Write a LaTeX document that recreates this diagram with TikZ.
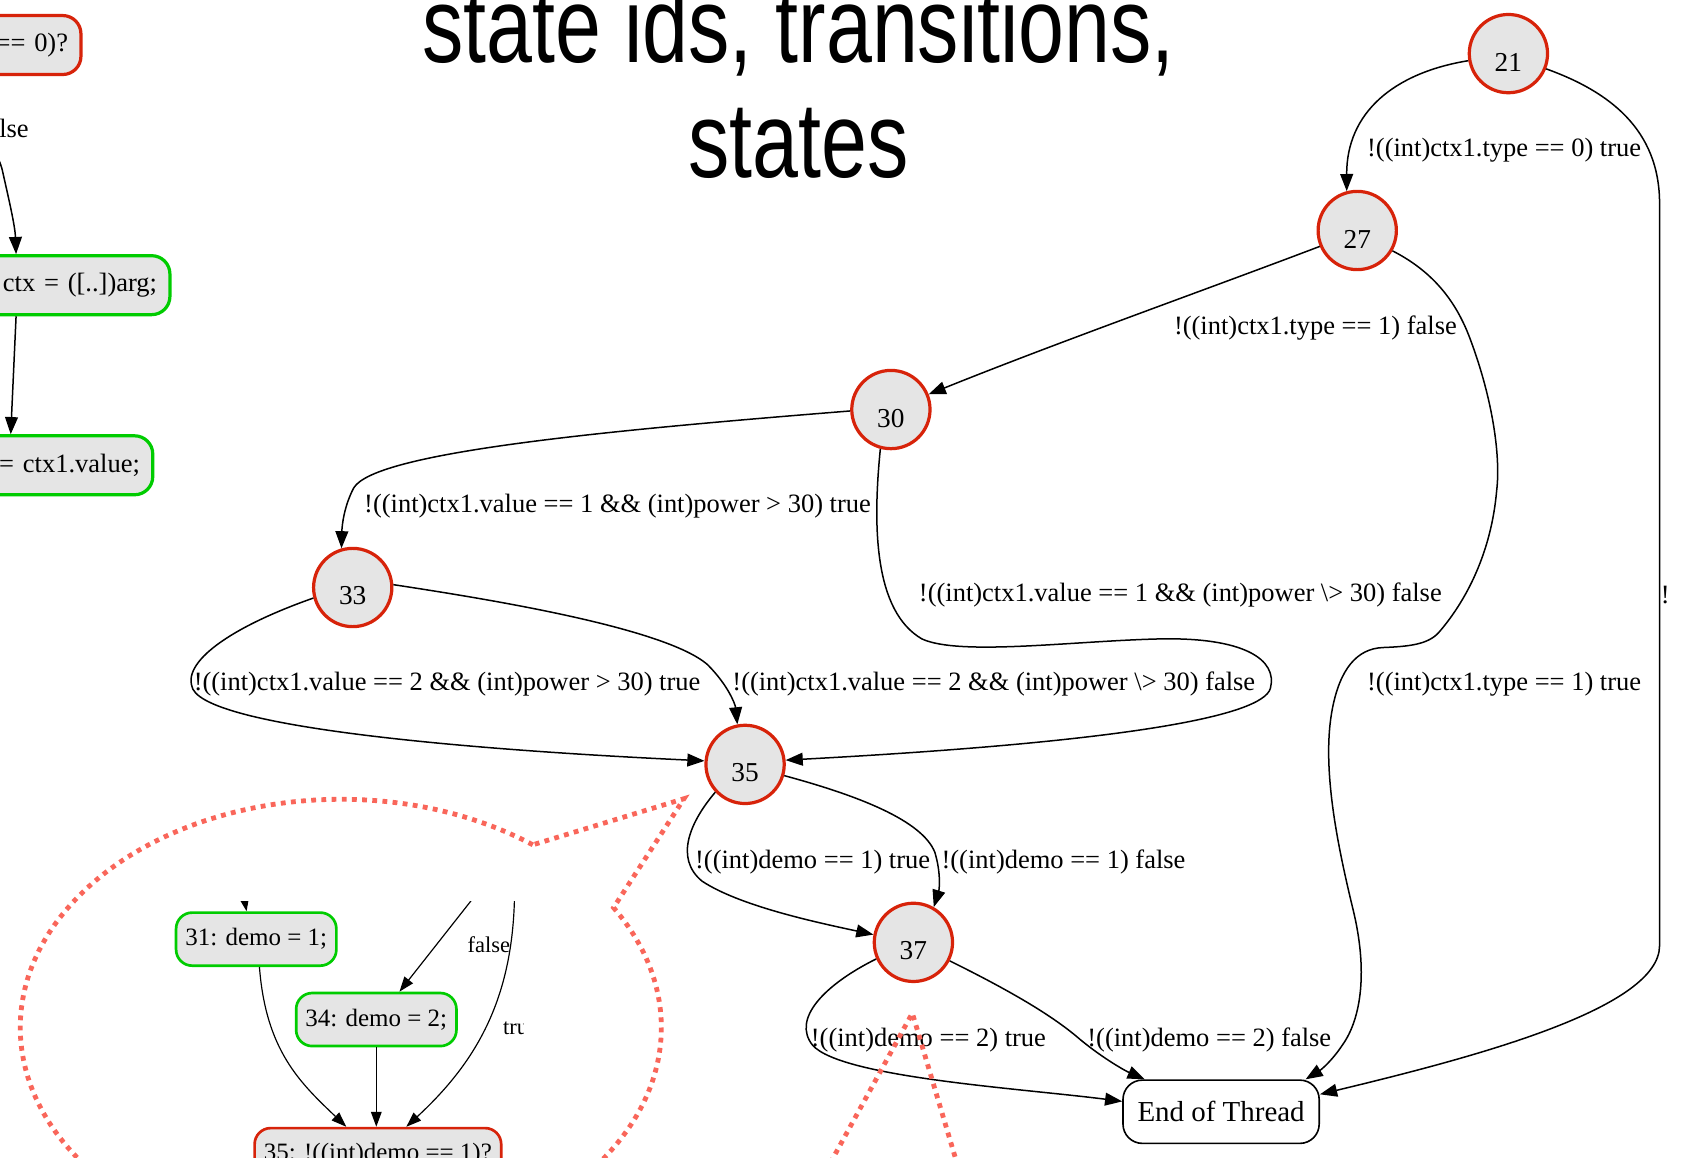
\documentclass[tikz,border=0pt]{standalone}
\usepackage{fontspec}
\setmainfont{Liberation Serif}
\newfontfamily\titlefont[FakeStretch=0.77]{Liberation Sans}
\usetikzlibrary{arrows.meta}
\definecolor{statered}{HTML}{D7230A}
\definecolor{codegreen}{HTML}{00CC00}
\definecolor{stategray}{HTML}{E5E5E5}
\definecolor{calloutred}{HTML}{F9665A}
\tikzset{
  state/.style={circle, draw=statered, line width=3pt, fill=stategray,
    minimum size=73pt, inner sep=0pt},
  statelbl/.style={font=\fontsize{25.5pt}{28pt}\selectfont, inner sep=0pt, yshift=-8pt},
  trans/.style={line width=1.4pt, -{Triangle[length=16pt,width=12pt]}},
  lbl/.style={font=\fontsize{24.7pt}{28pt}\selectfont, inner sep=0pt},
  endbox/.style={draw=black, line width=1.5pt, rounded corners=18pt, fill=white,
    minimum width=183pt, minimum height=59pt, font=\fontsize{27pt}{30pt}\selectfont},
  codebox/.style={rounded corners=17pt, fill=stategray, line width=3pt,
    minimum height=55pt, inner xsep=12pt, text width=200pt, align=right,
    anchor=east, font=\fontsize{24.7pt}{28pt}\selectfont},
  innerbox/.style={rounded corners=15pt, fill=stategray, line width=2.5pt,
    minimum width=149.5pt, minimum height=49.5pt, inner sep=0pt,
    font=\fontsize{23.3pt}{26pt}\selectfont},
  innertrans/.style={line width=1.1pt, -{Triangle[length=14pt,width=10pt]}},
  innerlbl/.style={font=\fontsize{21pt}{24pt}\selectfont, inner sep=0pt},
  titletxt/.style={font=\titlefont\fontsize{100pt}{108pt}\selectfont, inner sep=0pt},
  callout/.style={draw=calloutred, line width=4.5pt, dash pattern=on 4.5pt off 5pt}
}
\begin{document}
\begin{tikzpicture}[x=1pt,y=-1pt]
\useasboundingbox (0,0) rectangle (1568,1080);
\clip (0,0) rectangle (1568,1080);

% heading
\node[titletxt, anchor=base] (title1) at (745,58) {state ids, transitions,};
\node[titletxt, anchor=base] (title2) at (745,166) {states};

% state nodes
\node[state, label={[statelbl]center:21}] (s21) at (1407,50) {};
\node[state, label={[statelbl]center:27}] (s27) at (1266,215) {};
\node[state, label={[statelbl]center:30}] (s30) at (831,382) {};
\node[state, label={[statelbl]center:33}] (s33) at (329,548) {};
\node[state, label={[statelbl]center:35}] (s35) at (695,713) {};
\node[state, label={[statelbl]center:37}] (s37) at (852,879) {};
\node[endbox] (endt) at (1139,1037) {End of Thread};

% transitions between states
\draw[trans] (s21.190) .. controls (1300,68) and (1256,105) .. (s27.105);
\draw[trans] (s21.-22) .. controls (1500,85) and (1548,120) .. (1548,190)
  -- (1548,882) .. controls (1548,940) and (1380,985) .. (endt.10);
\draw[trans] (s27.203) .. controls (1120,272) and (990,318) .. (s30.22);
\draw[trans] (s27.-30) .. controls (1340,255) and (1360,285) .. (1372,318)
  .. controls (1392,372) and (1400,425) .. (1396,458)
  .. controls (1391,515) and (1368,560) .. (1342,590)
  .. controls (1332,601) and (1315,603) .. (1290,604)
  .. controls (1265,605) and (1250,625) .. (1243,660)
  .. controls (1232,715) and (1248,790) .. (1262,848)
  .. controls (1276,905) and (1270,950) .. (1252,975)
  .. controls (1242,990) and (1232,998) .. (endt.21);
\draw[trans] (s30.182) .. controls (560,402) and (350,422) .. (330,455)
  .. controls (321,472) and (319,490) .. (s33.106);
\draw[trans] (s30.255) .. controls (814,490) and (815,570) .. (860,596)
  .. controls (895,612) and (1000,598) .. (1080,596)
  .. controls (1160,594) and (1192,615) .. (1185,642)
  .. controls (1178,668) and (1050,692) .. (s35.6);
\draw[trans] (s33.195) .. controls (215,585) and (168,618) .. (180,643)
  .. controls (200,680) and (450,700) .. (s35.175);
\draw[trans] (s33.4) .. controls (450,558) and (620,585) .. (660,620)
  .. controls (680,640) and (686,658) .. (s35.101);
\draw[trans] (s35.223) .. controls (645,765) and (628,800) .. (655,822)
  .. controls (690,845) and (760,860) .. (s37.169);
\draw[trans] (s35.-16) .. controls (800,742) and (860,765) .. (872,795)
  .. controls (878,815) and (876,830) .. (s37.60);
\draw[trans] (s37.204) .. controls (770,918) and (738,950) .. (758,975)
  .. controls (785,1005) and (950,1015) .. (endt.174);
\draw[trans] (s37.-27) .. controls (950,928) and (985,950) .. (1008,970)
  .. controls (1030,988) and (1050,999) .. (endt.157);

% transition labels
\node[lbl] (l1) at (1403,140) {!((int)ctx1.type == 0) true};
\node[lbl] (l2) at (1227,306) {!((int)ctx1.type == 1) false};
\node[lbl] (l3) at (1403,638) {!((int)ctx1.type == 1) true};
\node[lbl] (l4) at (576,472) {!((int)ctx1.value == 1 \&\& (int)power > 30) true};
\node[lbl] (l5) at (1101,555) {!((int)ctx1.value == 1 \&\& (int)power \textbackslash> 30) false};
\node[lbl] (l6) at (417,638) {!((int)ctx1.value == 2 \&\& (int)power > 30) true};
\node[lbl] (l7) at (927,638) {!((int)ctx1.value == 2 \&\& (int)power \textbackslash> 30) false};
\node[lbl] (l8) at (758,804) {!((int)demo == 1) true};
\node[lbl] (l9) at (992,804) {!((int)demo == 1) false};
\node[lbl] (l10) at (866,970) {!((int)demo == 2) true};
\node[lbl] (l11) at (1128,970) {!((int)demo == 2) false};
\node[lbl, anchor=west] (l12) at (1549,555) {!};

% source code graph on the left
\node[codebox, draw=statered] (b1) at (77,42) {== 0)?};
\node[codebox, draw=codegreen] (b2) at (160,266) {ctx = ([..])arg;};
\node[codebox, draw=codegreen] (b3) at (144,434) {= ctx1.value;};
\draw[trans] (b1.south) .. controls (-28,110) and (-4,135) .. (2,158)
  .. controls (8,185) and (14,210) .. ([xshift=-145pt]b2.north east);
\draw[trans] ([xshift=-145pt]b2.south east) -- ([xshift=-134pt]b3.north east);
\node[lbl, anchor=east] (lb1) at (27,120) {lse};

% magnified excerpt of the source code graph
\begin{scope}
  \clip (100,841) rectangle (488,1080);
  \node[innerbox, draw=codegreen] (c31) at (239,876) {31: demo = 1;};
  \node[innerbox, draw=codegreen] (c34) at (351,951) {34: demo = 2;};
  \node[innerbox, draw=statered, minimum width=230pt] (c35) at (352.5,1077) {35: !((int)demo == 1)?};
  \coordinate (cin1) at (226,828);
  \coordinate (cin2) at (449,828);
  \coordinate (cin3) at (480,828);
  \draw[innertrans] (cin1) -- ([xshift=-9pt]c31.north);
  \draw[innertrans] (cin2) -- ([xshift=21.6pt]c34.north);
  \draw[innertrans] (cin3) .. controls (480,930) and (445,990) .. ([xshift=26.5pt]c35.north);
  \draw[innertrans] ([xshift=3pt]c31.south) .. controls (248,980) and (280,1010) .. ([xshift=-29.5pt]c35.north);
  \draw[innertrans] (c34.south) -- (c34.south |- c35.north);
  \node[innerlbl] (cf) at (456,881) {false};
  \node[innerlbl, anchor=west] (ct) at (469,959) {true};
\end{scope}

% dotted callouts
\draw[callout] (497,788) arc[start angle=-53.2, end angle=-391.7, x radius=299, y radius=213]
  -- (638,745) -- cycle;
\draw[callout] (770,1093) -- (851,945) -- (895,1093);
\end{tikzpicture}
\end{document}
